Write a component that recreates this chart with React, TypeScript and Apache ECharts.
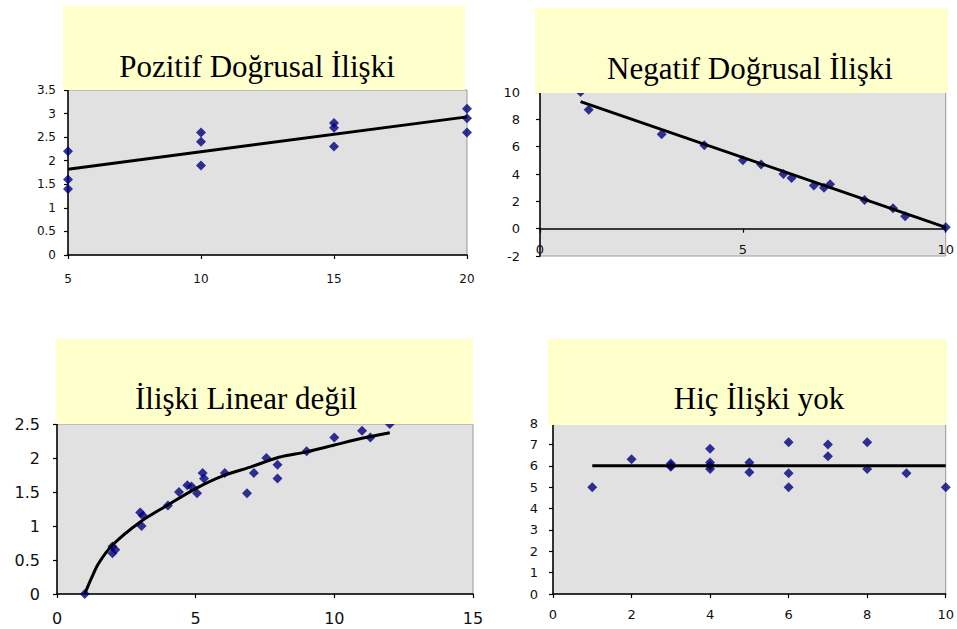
import React, { useEffect, useRef } from "react";
import * as echarts from "echarts";

// Panel 1: Pozitif Doğrusal İlişki
const posX = [5, 5, 5, 10, 10, 10, 15, 15, 15, 20, 20, 20];
const posY = [2.2, 1.6, 1.4, 2.6, 2.4, 1.9, 2.8, 2.7, 2.3, 3.1, 2.9, 2.6];
const posTrendX = [5, 20];
const posTrendY = [1.82, 2.93];

// Panel 2: Negatif Doğrusal İlişki
const negX = [1, 1.2, 3, 4.05, 5, 5.45, 6, 6.2, 6.75, 7, 7.15, 8, 8.7, 9, 10];
const negY = [10, 8.7, 6.9, 6.1, 5, 4.7, 4, 3.7, 3.15, 3, 3.25, 2.1, 1.5, 0.9, 0.1];
const negTrendX = [1, 10];
const negTrendY = [9.3, 0.1];

// Panel 3: İlişki Linear değil
const nlX = [1, 2, 2.1, 2, 3, 3.05, 3.1, 4, 4.4, 4.7, 4.85, 5.05, 5.25, 5.3, 6.05, 6.85, 7.1, 7.55, 7.95, 7.95, 9, 10, 11, 11.3, 12];
const nlY = [0, 0.7, 0.65, 0.6, 1.2, 1.0, 1.15, 1.3, 1.5, 1.6, 1.58, 1.48, 1.78, 1.7, 1.78, 1.48, 1.78, 2.0, 1.9, 1.7, 2.1, 2.3, 2.4, 2.3, 2.5];
const nlCurveX = [1, 1.25, 1.5, 2, 3, 4, 5, 6, 7, 8, 9, 10, 11, 12];
const nlCurveY = [0, 0.24, 0.45, 0.72, 1.06, 1.31, 1.55, 1.74, 1.87, 2.01, 2.09, 2.19, 2.29, 2.37];

// Panel 4: Hiç İlişki yok
const noX = [1, 2, 3, 3, 3, 4, 4, 4, 4, 5, 5, 6, 6, 6, 7, 7, 8, 8, 9, 10];
const noY = [5, 6.3, 6.1, 6.0, 5.95, 6.8, 6.15, 6.0, 5.85, 6.15, 5.7, 7.1, 5.65, 5, 7.0, 6.45, 7.1, 5.85, 5.65, 5];
const noTrendX = [1, 10];
const noTrendY = [6, 6];

const titles = ["Pozitif Doğrusal İlişki", "Negatif Doğrusal İlişki", "İlişki Linear değil", "Hiç İlişki yok"];

const zip = (xs: number[], ys: number[]) => xs.map((x, i) => [x, ys[i]]);

const GRAY = "#e1e1e1";
const YELLOW = "#ffffcc";
const NAVY = "#000080";

export default function App() {
  const ref = useRef<HTMLDivElement>(null);
  useEffect(() => {
    if (!ref.current) return;
    const chart = echarts.init(ref.current, undefined, { renderer: "svg" });

    const grids = [
      { left: 68, top: 90, width: 399, height: 165 },
      { left: 540, top: 92, width: 407, height: 164 },
      { left: 57, top: 424, width: 416, height: 170 },
      { left: 553, top: 423, width: 393, height: 171 },
    ].map((g) => ({
      ...g,
      show: true,
      backgroundColor: GRAY,
      borderColor: "#9a9a9a",
      borderWidth: 1,
    }));

    const axisLine = { show: true, lineStyle: { color: "#000", width: 1.5 } };
    const axisTick = { show: true, length: 4, lineStyle: { color: "#000", width: 1.2 } };
    const lbl = (size: number, margin: number) => ({
      color: "#111",
      fontFamily: "DejaVu Sans",
      fontSize: size,
      margin,
    });

    const xAxes = [
      { gridIndex: 0, type: "value", min: 5, max: 20, interval: 5, axisLabel: lbl(12, 18) },
      { gridIndex: 1, type: "value", min: 0, max: 10, interval: 5, axisLabel: lbl(13, -13), axisLine: { ...axisLine, onZero: true } },
      { gridIndex: 2, type: "value", min: 0, max: 15, interval: 5, axisLabel: lbl(16, 16) },
      { gridIndex: 3, type: "value", min: 0, max: 10, interval: 2, axisLabel: lbl(13, 14) },
    ].map((a: any) => ({
      splitLine: { show: false },
      axisTick,
      axisLine: a.axisLine || axisLine,
      ...a,
    }));

    const yAxes = [
      { gridIndex: 0, type: "value", min: 0, max: 3.5, interval: 0.5, axisLabel: lbl(12, 12) },
      { gridIndex: 1, type: "value", min: -2, max: 10, interval: 2, axisLabel: lbl(13, 20) },
      { gridIndex: 2, type: "value", min: 0, max: 2.5, interval: 0.5, axisLabel: lbl(16, 17) },
      { gridIndex: 3, type: "value", min: 0, max: 8, interval: 1, axisLabel: lbl(13, 15) },
    ].map((a: any) => ({
      splitLine: { show: false },
      axisTick,
      axisLine,
      ...a,
    }));

    const scatter = (i: number, data: number[][]) => ({
      type: "scatter",
      xAxisIndex: i,
      yAxisIndex: i,
      data,
      symbol: "diamond",
      symbolSize: 10,
      itemStyle: { color: NAVY },
      z: 3,
    });
    const trend = (i: number, data: number[][], smooth: boolean | number = false) => ({
      type: "line",
      xAxisIndex: i,
      yAxisIndex: i,
      data,
      smooth,
      showSymbol: false,
      symbol: "none",
      lineStyle: { color: "#000", width: 3 },
      z: 4,
    });

    const boxes = [
      { x: 63, y: 6, w: 402, h: 84, cx: 257, cy: 66 },
      { x: 535, y: 8, w: 413, h: 85, cx: 750, cy: 68 },
      { x: 56, y: 339, w: 417, h: 85, cx: 246, cy: 398 },
      { x: 548, y: 339, w: 399, h: 86, cx: 759, cy: 398 },
    ];
    const graphic: any[] = [];
    boxes.forEach((b, i) => {
      graphic.push({
        type: "rect",
        shape: { x: b.x, y: b.y, width: b.w, height: b.h },
        style: { fill: YELLOW },
        z: 100,
      });
      graphic.push({
        type: "text",
        x: b.cx,
        y: b.cy,
        style: {
          text: titles[i],
          fill: "#000",
          font: '31px "Liberation Serif"',
          textAlign: "center",
          textVerticalAlign: "middle",
        },
        z: 101,
      });
    });

    chart.setOption({
      animation: false,
      backgroundColor: "#fff",
      grid: grids,
      xAxis: xAxes,
      yAxis: yAxes,
      graphic,
      series: [
        trend(0, zip(posTrendX, posTrendY)),
        scatter(0, zip(posX, posY)),
        trend(1, zip(negTrendX, negTrendY)),
        scatter(1, zip(negX, negY)),
        trend(2, zip(nlCurveX, nlCurveY), 0.3),
        scatter(2, zip(nlX, nlY)),
        trend(3, zip(noTrendX, noTrendY)),
        scatter(3, zip(noX, noY)),
      ],
    });
    return () => chart.dispose();
  }, []);

  return (
    <div
      ref={ref}
      style={{ position: "fixed", left: 0, top: 0, width: 957, height: 629 }}
    />
  );
}
